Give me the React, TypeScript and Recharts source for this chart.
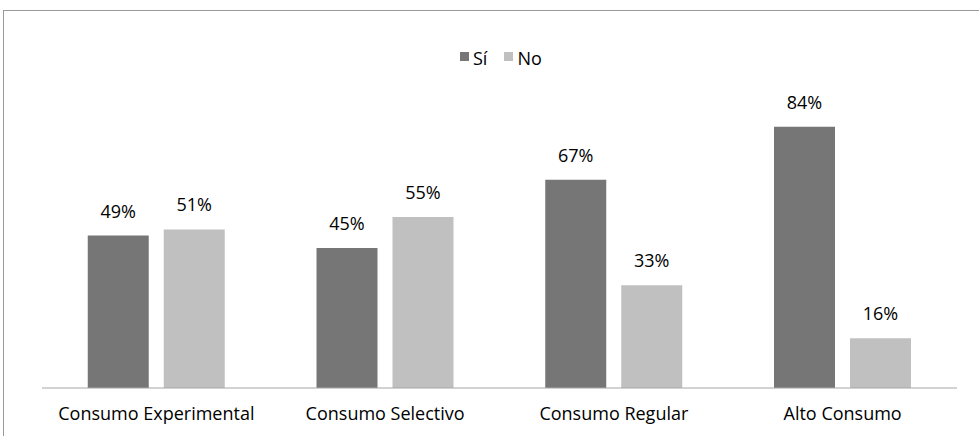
import { BarChart, Bar, XAxis, YAxis, LabelList } from "recharts";

const categories = ["Consumo Experimental", "Consumo Selectivo", "Consumo Regular", "Alto Consumo"];
const siValues = [49, 45, 67, 84];
const noValues = [51, 55, 33, 16];
const seriesNames = ["Sí", "No"];
const seriesColors = ["#767676", "#c0c0c0"];

const data = categories.map((name, i) => ({ name, si: siValues[i], no: noValues[i] }));

const font = "'Open Sans', sans-serif";
const fs = 18;

export default function App() {
  return (
    <div style={{ position: "relative", width: 979, height: 436, background: "#fff", overflow: "hidden" }}>
      <style>{`body{margin:0}`}</style>
      <div
        style={{
          position: "absolute",
          left: 3,
          top: 10,
          width: 1000,
          height: 500,
          borderLeft: "1px solid #9a9a9a",
          borderTop: "1px solid #9a9a9a",
        }}
      />
      {/* legend */}
      <div
        style={{
          position: "absolute",
          left: 460,
          top: 48,
          height: 20,
          lineHeight: "20px",
          display: "flex",
          fontFamily: font,
          fontSize: fs,
          color: "#000",
        }}
      >
        {seriesNames.map((n, i) => (
          <span key={n} style={{ position: "relative", paddingLeft: 13, marginRight: 17 }}>
            <span
              style={{ position: "absolute", left: 0, top: 4, width: 9, height: 9, background: seriesColors[i] }}
            />
            {n}
          </span>
        ))}
      </div>
      <BarChart
        width={979}
        height={436}
        data={data}
        margin={{ top: 77, right: 22, left: 42, bottom: 18 }}
        barCategoryGap="20%"
        barGap={15}
        style={{ position: "absolute", left: 0, top: 0 }}
      >
        <XAxis
          dataKey="name"
          height={30}
          axisLine={{ stroke: "#a6a6a6" }}
          tickLine={false}
          tick={{ fill: "#000", fontSize: fs, fontFamily: font }}
          dy={11}
        />
        <YAxis hide domain={[0, 100]} />
        <Bar dataKey="si" name={seriesNames[0]} fill={seriesColors[0]} isAnimationActive={false}>
          <LabelList dataKey="si" position="top" offset={18} formatter={(v: any) => `${v}%`} style={{ fill: "#000", fontSize: fs, fontFamily: font }} />
        </Bar>
        <Bar dataKey="no" name={seriesNames[1]} fill={seriesColors[1]} isAnimationActive={false}>
          <LabelList dataKey="no" position="top" offset={18} formatter={(v: any) => `${v}%`} style={{ fill: "#000", fontSize: fs, fontFamily: font }} />
        </Bar>
      </BarChart>
    </div>
  );
}
